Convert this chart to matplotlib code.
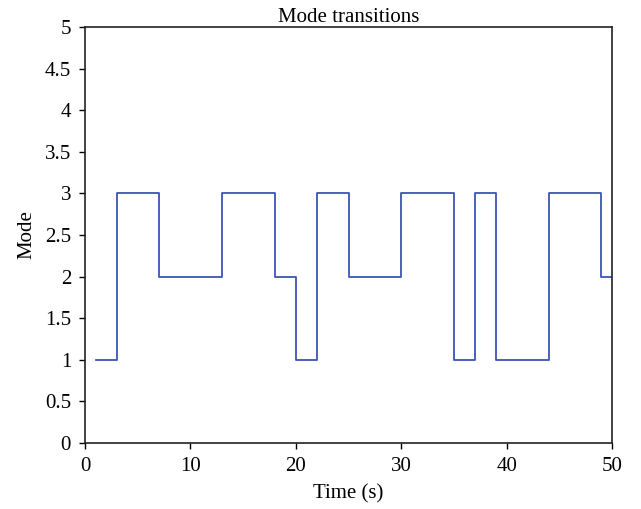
import matplotlib
matplotlib.use("Agg")
import matplotlib.pyplot as plt

# switching times (s) and the mode held from each time on
times = [1, 3, 7, 13, 18, 20, 22, 25, 30, 35, 37, 39, 44, 49, 50]
modes = [1, 3, 2, 3, 2, 1, 3, 2, 3, 1, 3, 1, 3, 2, 2]

xticks = [0, 10, 20, 30, 40, 50]
yticks = [0, 0.5, 1, 1.5, 2, 2.5, 3, 3.5, 4, 4.5, 5]

plt.rcParams['font.family'] = ['Liberation Serif', 'DejaVu Serif']
plt.rcParams['font.size'] = 15

fig, ax = plt.subplots(figsize=(6.41, 5.09), dpi=100)
fig.subplots_adjust(left=0.1326, right=0.9548, top=0.947, bottom=0.1297)

ax.step(times, modes, where='post', color='#3b55b3', linewidth=1.3)

ax.set_xlim(0, 50)
ax.set_ylim(0, 5)
ax.set_xticks(xticks)
ax.set_yticks(yticks)
ax.set_yticklabels([f'{v:g}' for v in yticks])
ax.tick_params(direction='out', length=4, width=1, top=False, right=False)
ax.tick_params(axis='y', pad=6)
ax.tick_params(axis='x', pad=6)
for s in ax.spines.values():
    s.set_linewidth(1.2)
    s.set_color('#222222')

ax.set_title('Mode transitions', fontsize=15, pad=3)
ax.set_xlabel('Time (s)', labelpad=6)
ax.set_ylabel('Mode', labelpad=6)

fig.savefig('out.png', dpi=100)
